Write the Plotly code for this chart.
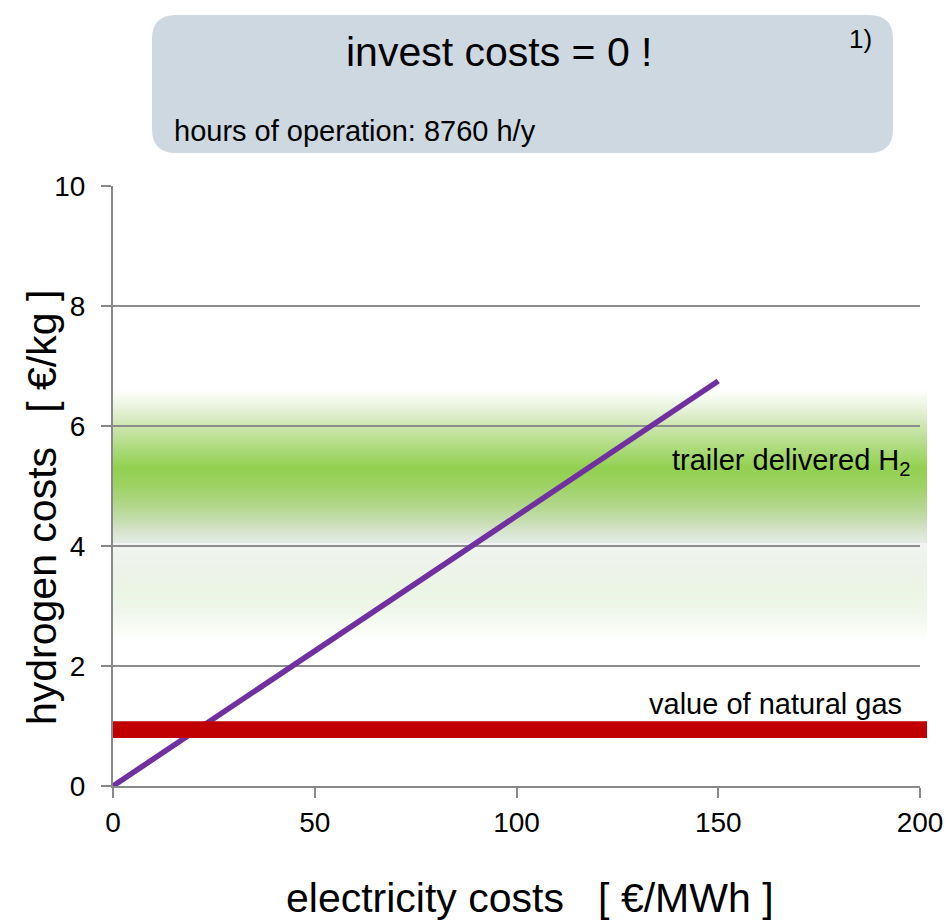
import numpy as np
import plotly.graph_objects as go

# --- data ---------------------------------------------------------------
elec_cost = [0, 150]            # electricity costs [€/MWh]
h2_cost = [0, 6.75]             # hydrogen costs [€/kg]
trailer_band = [2.4, 4.05, 6.6]  # lower edge, split between pale/strong part, upper edge [€/kg]
gas_band = [0.8, 1.08]          # value of natural gas [€/kg]
x_ticks = [0, 50, 100, 150, 200]
y_ticks = [0, 2, 4, 6, 8, 10]

# colour stops of the trailer band gradient (value, rgb)
upper_stops = [
    (4.05, (228, 234, 230)),
    (4.20, (218, 230, 212)),
    (4.40, (200, 222, 180)),
    (4.70, (176, 214, 135)),
    (5.00, (158, 210, 100)),
    (5.30, (146, 208, 80)),
    (5.60, (170, 218, 120)),
    (6.00, (205, 230, 176)),
    (6.30, (232, 243, 220)),
    (6.60, (255, 255, 255)),
]
lower_stops = [
    (2.40, (255, 255, 255)),
    (2.60, (249, 252, 246)),
    (2.90, (240, 247, 234)),
    (3.30, (236, 244, 228)),
    (3.70, (238, 243, 234)),
    (4.05, (242, 244, 242)),
]


def colour_at(stops, y):
    ys = [s[0] for s in stops]
    rgb = [np.interp(y, ys, [s[1][k] for s in stops]) for k in range(3)]
    return "rgb(%d,%d,%d)" % tuple(int(round(v)) for v in rgb)


shapes = []
X_END = 1.0087  # bands reach a little past the right end of the axis


def add_gradient(stops, y_lo, y_hi, step=0.02):
    edges = np.arange(y_lo, y_hi + 1e-9, step)
    if edges[-1] < y_hi:
        edges = np.append(edges, y_hi)
    for y0, y1 in zip(edges[:-1], edges[1:]):
        shapes.append(dict(type="rect", xref="paper", yref="y", x0=0, x1=X_END,
                           y0=y0, y1=min(y1 + 0.015, y_hi),
                           fillcolor=colour_at(stops, 0.5 * (y0 + y1)),
                           line_width=0, layer="below"))


lo, split, hi = trailer_band
add_gradient(lower_stops, lo, split)
add_gradient(upper_stops, split, hi)

# natural gas value band (drawn over the cost line)
shapes.append(dict(type="rect", xref="paper", yref="y", x0=0, x1=X_END,
                   y0=gas_band[0], y1=gas_band[1], fillcolor="#C00000",
                   line_width=0, layer="above"))

# rounded info box above the plot (pixel geometry converted to paper coords)
PLOT_L, PLOT_W, PLOT_B, PLOT_H = 113, 807, 786, 600


def px(x):
    return (x - PLOT_L) / PLOT_W


def py(y):
    return (PLOT_B - y) / PLOT_H


bx0, bx1, by0, by1, r = 152, 893, 15, 153, 24
path = (
    f"M {px(bx0 + r)} {py(by0)} L {px(bx1 - r)} {py(by0)} "
    f"Q {px(bx1)} {py(by0)} {px(bx1)} {py(by0 + r)} "
    f"L {px(bx1)} {py(by1 - r)} "
    f"Q {px(bx1)} {py(by1)} {px(bx1 - r)} {py(by1)} "
    f"L {px(bx0 + r)} {py(by1)} "
    f"Q {px(bx0)} {py(by1)} {px(bx0)} {py(by1 - r)} "
    f"L {px(bx0)} {py(by0 + r)} "
    f"Q {px(bx0)} {py(by0)} {px(bx0 + r)} {py(by0)} Z"
)
shapes.append(dict(type="path", xref="paper", yref="paper", path=path,
                   fillcolor="#CDD8E0", line_width=0, layer="above"))

FONT = "Liberation Sans, Arial, sans-serif"

fig = go.Figure()
fig.add_trace(go.Scatter(x=elec_cost, y=h2_cost, mode="lines",
                         line=dict(color="#7030A0", width=5.5),
                         hoverinfo="skip", showlegend=False))


def note(text, x, y, size, xanchor="center", yref="paper", angle=0):
    return dict(text=text, xref="paper", yref=yref, x=x, y=y,
                xanchor=xanchor, yanchor="middle", textangle=angle,
                showarrow=False, font=dict(size=size, color="black", family=FONT))


annotations = [
    note("invest costs = 0 !", px(499), py(52), 41),
    note("1)", px(860), py(39), 26),
    note("hours of operation: 8760 h/y", px(172), py(131), 29, xanchor="left"),
    note("trailer delivered H<sub>2</sub>", px(913), 5.4, 29,
         xanchor="right", yref="y"),
    note("value of natural gas", px(904), 1.37, 29, xanchor="right", yref="y"),
    # axis titles
    note("electricity costs   [ €/MWh ]", px(530), py(898), 41),
    note("hydrogen costs   [ €/kg ]", px(42), py(508), 41, angle=-90),
]

fig.update_layout(
    width=949, height=922,
    margin=dict(l=PLOT_L, r=949 - PLOT_L - PLOT_W, t=PLOT_B - PLOT_H,
                b=922 - PLOT_B, pad=0, autoexpand=False),
    paper_bgcolor="white", plot_bgcolor="white",
    shapes=shapes, annotations=annotations,
    font=dict(family=FONT, color="black"),
    xaxis=dict(range=[0, 200], tickvals=x_ticks, showgrid=False,
               showline=True, linecolor="#898989", linewidth=2,
               ticks="outside", ticklen=10, tickcolor="#898989", tickwidth=2,
               tickfont=dict(size=28), zeroline=False, ticklabelstandoff=0,
               automargin=False),
    yaxis=dict(range=[0, 10], tickvals=y_ticks, showgrid=True,
               gridcolor="#8C8C8C", gridwidth=1.5,
               showline=True, linecolor="#898989", linewidth=2,
               ticks="outside", ticklen=10, tickcolor="#898989", tickwidth=2,
               tickfont=dict(size=28), zeroline=False, ticklabelstandoff=10,
               automargin=False),
)

fig.write_html("out.html")
